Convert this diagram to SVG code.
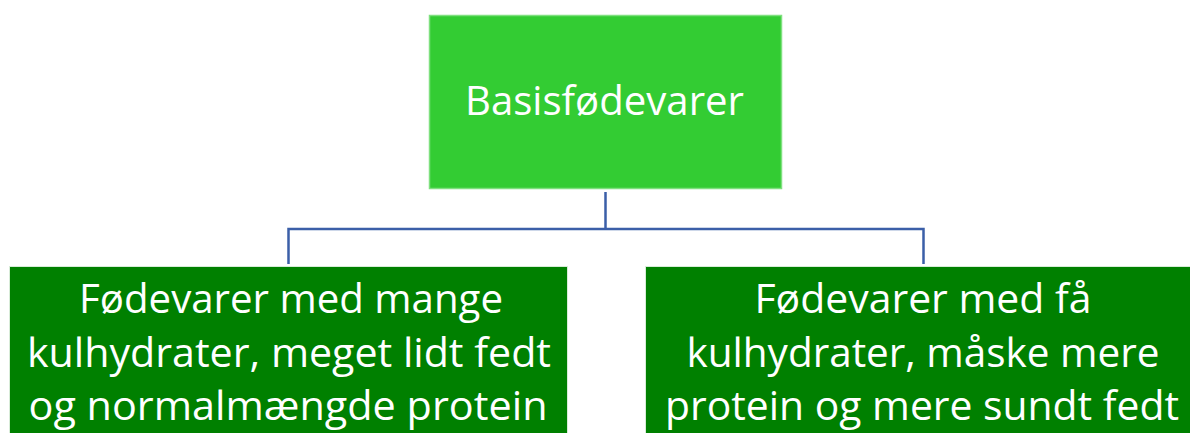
<svg xmlns="http://www.w3.org/2000/svg" width="1190" height="433" viewBox="0 0 1190 433">
  <style>
    .root { fill: #33cc33; stroke: #7fe07f; stroke-width: 1.5; }
    .leaf { fill: #008000; stroke: #d8ecd8; stroke-width: 1; }
    .lbl { font-family: "Open Sans", "Liberation Sans", sans-serif; font-size: 41px; fill: #ffffff; text-anchor: middle; }
    .link { fill: none; stroke: #3b5fa8; stroke-width: 2.5; }
  </style>
  <rect width="1190" height="433" fill="#ffffff"/>
  <g id="connectors">
    <path class="link" d="M605.5 192 V229 M288.5 264 V229 H923.5 V264"/>
  </g>
  <g id="node-basis">
    <rect class="root" x="429.5" y="15.5" width="352" height="173"/>
    <text class="lbl" x="604.5" y="115" textLength="279" lengthAdjust="spacingAndGlyphs">Basisfødevarer</text>
  </g>
  <g id="node-mange">
    <rect class="leaf" x="9.5" y="266.5" width="558" height="180"/>
    <text class="lbl" x="291" y="313" textLength="424" lengthAdjust="spacingAndGlyphs">Fødevarer med mange</text>
    <text class="lbl" x="289" y="367" textLength="524" lengthAdjust="spacingAndGlyphs">kulhydrater, meget lidt fedt</text>
    <text class="lbl" x="288" y="420" textLength="519" lengthAdjust="spacingAndGlyphs">og normalmængde protein</text>
  </g>
  <g id="node-faa">
    <rect class="leaf" x="645.5" y="266.5" width="560" height="180"/>
    <text class="lbl" x="923" y="313" textLength="337" lengthAdjust="spacingAndGlyphs">Fødevarer med få</text>
    <text class="lbl" x="923" y="367" textLength="473" lengthAdjust="spacingAndGlyphs">kulhydrater, måske mere</text>
    <text class="lbl" x="922" y="420" textLength="514" lengthAdjust="spacingAndGlyphs">protein og mere sundt fedt</text>
  </g>
</svg>
